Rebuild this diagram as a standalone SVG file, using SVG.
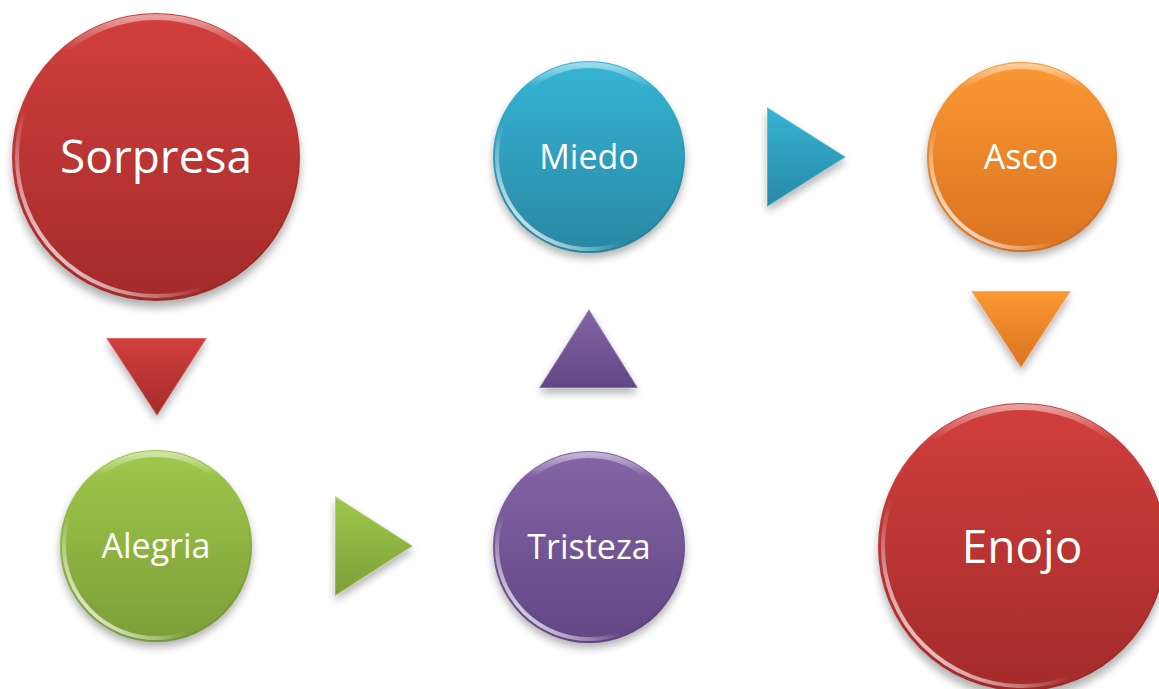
<svg xmlns="http://www.w3.org/2000/svg" width="1159" height="689" viewBox="0 0 1159 689">
<defs>
  <linearGradient id="gRed" x1="0" y1="0" x2="0" y2="1">
    <stop offset="0" stop-color="#D13F3D"/><stop offset="1" stop-color="#A32B2A"/>
  </linearGradient>
  <linearGradient id="gTeal" x1="0" y1="0" x2="0" y2="1">
    <stop offset="0" stop-color="#36B4D5"/><stop offset="1" stop-color="#2888A3"/>
  </linearGradient>
  <linearGradient id="gOrange" x1="0" y1="0" x2="0" y2="1">
    <stop offset="0" stop-color="#FA9833"/><stop offset="1" stop-color="#DB7320"/>
  </linearGradient>
  <linearGradient id="gGreen" x1="0" y1="0" x2="0" y2="1">
    <stop offset="0" stop-color="#9FC84B"/><stop offset="1" stop-color="#7C9E38"/>
  </linearGradient>
  <linearGradient id="gPurple" x1="0" y1="0" x2="0" y2="1">
    <stop offset="0" stop-color="#8465A6"/><stop offset="1" stop-color="#624684"/>
  </linearGradient>
  <linearGradient id="rimLow" x1="0" y1="1" x2="1" y2="0">
    <stop offset="0.08" stop-color="#fff" stop-opacity="0.9"/>
    <stop offset="0.35" stop-color="#fff" stop-opacity="0"/>
  </linearGradient>
  <linearGradient id="rimTop" x1="0" y1="0" x2="0" y2="1">
    <stop offset="0" stop-color="#fff" stop-opacity="0.5"/>
    <stop offset="0.12" stop-color="#fff" stop-opacity="0"/>
  </linearGradient>
  <linearGradient id="rimDark" x1="0" y1="0" x2="1" y2="1">
    <stop offset="0.6" stop-color="#000" stop-opacity="0"/>
    <stop offset="1" stop-color="#000" stop-opacity="0.12"/>
  </linearGradient>
  <filter id="shadow" x="-20%" y="-20%" width="140%" height="150%">
    <feGaussianBlur stdDeviation="4"/>
  </filter>
</defs>
<style>
  .sh { fill: #000; opacity: 0.3; filter: url(#shadow); }
  .rl { fill: none; stroke: url(#rimLow); stroke-width: 4; }
  .rt { fill: none; stroke: url(#rimTop); stroke-width: 6; }
  .rd { fill: none; stroke: url(#rimDark); stroke-width: 2; }
  .lbl { font-family: "Open Sans", "Noto Sans", sans-serif; fill: #fff; text-anchor: middle; }
  .big { font-size: 46px; }
  .sm { font-size: 34px; }
  .tri { stroke: #fff; stroke-opacity: 0.3; stroke-width: 1.5; stroke-linejoin: round; }
</style>

<g id="connectors">
  <g id="arrow-sorpresa-alegria">
    <polygon class="sh" points="106,343 207,343 157,421"/>
    <polygon class="tri" fill="url(#gRed)" points="106,338 207,338 157,416"/>
  </g>
  <g id="arrow-alegria-tristeza">
    <polygon class="sh" points="335,501 335,601 413,551"/>
    <polygon class="tri" fill="url(#gGreen)" points="335,496 335,596 413,546"/>
  </g>
  <g id="arrow-tristeza-miedo">
    <polygon class="sh" points="539,393 638,393 589,314"/>
    <polygon class="tri" fill="url(#gPurple)" points="539,388 638,388 589,309"/>
  </g>
  <g id="arrow-miedo-asco">
    <polygon class="sh" points="767,112 767,212 846,162"/>
    <polygon class="tri" fill="url(#gTeal)" points="767,107 767,207 846,157"/>
  </g>
  <g id="arrow-asco-enojo">
    <polygon class="sh" points="971,296 1071,296 1021,373"/>
    <polygon class="tri" fill="url(#gOrange)" points="971,291 1071,291 1021,368"/>
  </g>
</g>

<g id="node-sorpresa">
  <circle class="sh" cx="156" cy="164" r="144"/>
  <circle cx="156" cy="157" r="144" fill="url(#gRed)"/>
  <circle class="rd" cx="156" cy="157" r="143"/>
  <circle class="rt" cx="156" cy="157" r="140"/>
  <circle class="rl" cx="156" cy="157" r="139"/>
  <text class="lbl big" x="156" y="173">Sorpresa</text>
</g>

<g id="node-alegria">
  <circle class="sh" cx="156" cy="551" r="96"/>
  <circle cx="156" cy="546" r="96" fill="url(#gGreen)"/>
  <circle class="rd" cx="156" cy="546" r="95"/>
  <circle class="rt" cx="156" cy="546" r="92"/>
  <circle class="rl" cx="156" cy="546" r="92"/>
  <text class="lbl sm" x="156" y="558">Alegria</text>
</g>

<g id="node-tristeza">
  <circle class="sh" cx="589" cy="552" r="96"/>
  <circle cx="589" cy="547" r="96" fill="url(#gPurple)"/>
  <circle class="rd" cx="589" cy="547" r="95"/>
  <circle class="rt" cx="589" cy="547" r="92"/>
  <circle class="rl" cx="589" cy="547" r="92"/>
  <text class="lbl sm" x="589" y="559">Tristeza</text>
</g>

<g id="node-miedo">
  <circle class="sh" cx="589" cy="162" r="96"/>
  <circle cx="589" cy="157" r="96" fill="url(#gTeal)"/>
  <circle class="rd" cx="589" cy="157" r="95"/>
  <circle class="rt" cx="589" cy="157" r="92"/>
  <circle class="rl" cx="589" cy="157" r="92"/>
  <text class="lbl sm" x="589" y="169">Miedo</text>
</g>

<g id="node-asco">
  <circle class="sh" cx="1022" cy="162" r="95"/>
  <circle cx="1022" cy="157" r="95" fill="url(#gOrange)"/>
  <circle class="rd" cx="1022" cy="157" r="94"/>
  <circle class="rt" cx="1022" cy="157" r="91"/>
  <circle class="rl" cx="1022" cy="157" r="91"/>
  <text class="lbl sm" x="1021" y="169">Asco</text>
</g>

<g id="node-enojo">
  <circle class="sh" cx="1022" cy="554" r="144"/>
  <circle cx="1022" cy="547" r="144" fill="url(#gRed)"/>
  <circle class="rd" cx="1022" cy="547" r="143"/>
  <circle class="rt" cx="1022" cy="547" r="140"/>
  <circle class="rl" cx="1022" cy="547" r="139"/>
  <text class="lbl big" x="1022" y="563">Enojo</text>
</g>
</svg>
